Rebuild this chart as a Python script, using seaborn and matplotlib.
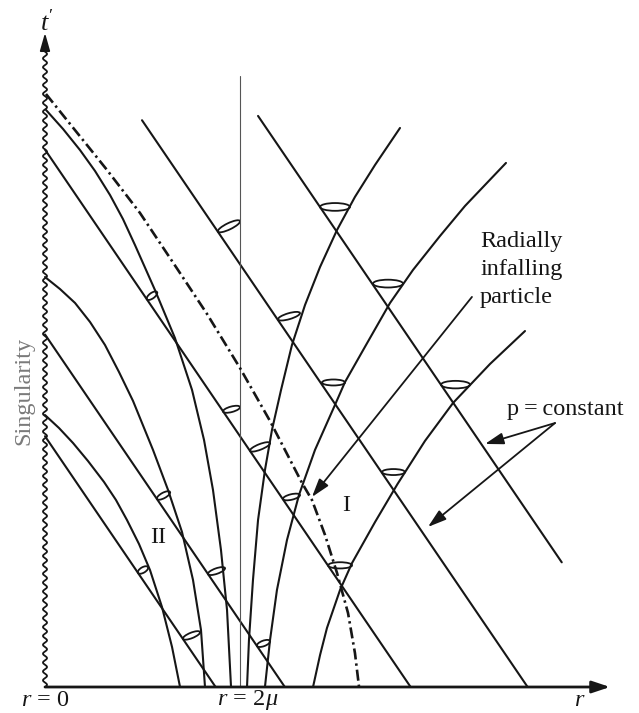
import numpy as np
import matplotlib
matplotlib.use("Agg")
import matplotlib.pyplot as plt
import seaborn as sns
from matplotlib.patches import Ellipse
from matplotlib.transforms import IdentityTransform

# ---------------- data (r and t' in units of mu) ----------------
# ingoing radial null lines  t' = C - r
ingoing_C = [1.75, 2.46, 3.75, 4.95, 6.17]
ingoing_r0 = [0.0, 0.0, 0.0, 0.995, 2.185]
ingoing_r1 = [1.75, 2.46, 3.75, 4.95, 5.30]

# "outgoing" null curves inside the horizon (region II)
II_a_r = [0.010, 0.185, 0.359, 0.513, 0.667, 0.800, 0.923, 1.128, 1.333, 1.508, 1.631, 1.723, 1.805, 1.867, 1.908]
II_a_t = [4.027, 3.894, 3.747, 3.601, 3.433, 3.265, 3.084, 2.770, 2.435, 2.073, 1.724, 1.375, 0.956, 0.537, 0.000]
II_b_r = [0.000, 0.154, 0.308, 0.462, 0.615, 0.759, 0.903, 1.108, 1.262, 1.405, 1.518, 1.600, 1.641]
II_b_t = [2.861, 2.777, 2.680, 2.547, 2.387, 2.198, 1.996, 1.654, 1.375, 1.082, 0.747, 0.398, 0.000]
II_c_r = [0.000, 0.144, 0.287, 0.441, 0.605, 0.728, 0.841, 0.964, 1.077, 1.200, 1.303, 1.385]
II_c_t = [1.898, 1.807, 1.703, 1.577, 1.431, 1.305, 1.165, 0.998, 0.816, 0.558, 0.279, 0.000]

# outgoing null curves outside the horizon (region I)
I_a_r = [2.072, 2.092, 2.133, 2.185, 2.256, 2.328, 2.421, 2.533, 2.667, 2.821, 2.995, 3.179, 3.385, 3.641]
I_a_t = [0.000, 0.328, 0.746, 1.165, 1.514, 1.794, 2.073, 2.387, 2.666, 2.931, 3.189, 3.420, 3.643, 3.901]
I_b_r = [2.256, 2.308, 2.379, 2.482, 2.605, 2.769, 2.974, 3.077, 3.292, 3.538, 3.774, 4.051, 4.308, 4.728]
I_b_t = [0.000, 0.328, 0.677, 1.026, 1.340, 1.654, 1.968, 2.128, 2.386, 2.679, 2.910, 3.147, 3.357, 3.657]
I_c_r = [2.749, 2.821, 2.892, 3.026, 3.149, 3.385, 3.615, 3.897, 4.185, 4.564, 4.923]
I_c_t = [0.000, 0.223, 0.412, 0.677, 0.865, 1.151, 1.416, 1.717, 1.982, 2.254, 2.484]

# radially infalling particle (dash-dot)
fall_r = [0.010, 0.636, 0.974, 1.364, 1.662, 2.000, 2.308, 2.636, 2.738, 2.872, 2.995, 3.108, 3.179, 3.221]
fall_t = [4.138, 3.608, 3.308, 2.910, 2.603, 2.226, 1.856, 1.424, 1.305, 1.061, 0.796, 0.516, 0.237, 0.000]

# light cones: ends of the cone's top ellipse (r1, t1, r2, t2)
cones = [
    (1.774, 3.178, 2.000, 3.252),
    (2.821, 3.350, 3.128, 3.350),
    (2.390, 2.565, 2.615, 2.610),
    (3.364, 2.815, 3.672, 2.815),
    (2.841, 2.125, 3.077, 2.125),
    (4.062, 2.110, 4.359, 2.110),
    (3.456, 1.500, 3.692, 1.500),
    (2.103, 1.648, 2.308, 1.703),
    (2.441, 1.312, 2.615, 1.340),
    (2.903, 0.849, 3.149, 0.849),
    (2.174, 0.287, 2.308, 0.321),
    (1.046, 2.705, 1.149, 2.756),
    (1.826, 1.922, 2.000, 1.954),
    (1.149, 1.312, 1.282, 1.361),
    (1.672, 0.788, 1.846, 0.830),
    (0.954, 0.796, 1.056, 0.837),
    (1.415, 0.336, 1.590, 0.384),
]

horizon_r = 2.0
horizon_top = 4.264
axis_r_max = 5.795
taxis_top = 4.46
taxis_tip = 4.565

# ---------------- style ----------------
sns.set_theme(style="white")
plt.rcParams["font.family"] = ["Liberation Serif", "DejaVu Serif"]
plt.rcParams["mathtext.fontset"] = "custom"
plt.rcParams["mathtext.rm"] = "Liberation Serif"
plt.rcParams["mathtext.it"] = "Liberation Serif:italic"
plt.rcParams["mathtext.bf"] = "Liberation Serif:bold"

ink = "#161616"
fs = 17.5

fig = plt.figure(figsize=(6.39, 7.13), dpi=100)
ax = fig.add_axes([0, 0, 1, 1])
ax.set_xlim(-0.4615, 6.0923)
ax.set_ylim(-0.1814, 4.794)
ax.axis("off")

LW = 1.5

def curve(r, t, **kw):
    sns.lineplot(x=r, y=t, ax=ax, sort=False, estimator=None, color=ink,
                 linewidth=kw.pop("linewidth", LW), **kw)
    ln = ax.lines[-1]
    ln.set_solid_joinstyle("round")
    return ln

# ingoing lines
for C, r0, r1 in zip(ingoing_C, ingoing_r0, ingoing_r1):
    rr = np.array([r0, r1])
    curve(rr, C - rr)

# outgoing curves
for r, t in [(II_a_r, II_a_t), (II_b_r, II_b_t), (II_c_r, II_c_t),
             (I_a_r, I_a_t), (I_b_r, I_b_t), (I_c_r, I_c_t)]:
    curve(r, t)

# horizon r = 2 mu
ax.plot([horizon_r, horizon_r], [0, horizon_top], color="#555555", lw=0.8)

# infalling particle
ln = curve(fall_r, fall_t, linewidth=1.9)
ln.set_linestyle((0, (4.2, 1.5, 0.9, 1.5)))

# singularity (wavy) and t' axis
tw = np.linspace(0, taxis_top, 900)
ax.plot(0.021 * np.sin(2 * np.pi * tw / 0.062), tw, color=ink, lw=1.3)
ax.annotate("", xy=(0, taxis_tip), xytext=(0, taxis_top - 0.02),
            arrowprops=dict(arrowstyle="-|>,head_length=0.6,head_width=0.17",
                            mutation_scale=18, color=ink, lw=1.3,
                            shrinkA=0, shrinkB=0))

# r axis
ax.annotate("", xy=(axis_r_max, 0), xytext=(0, 0),
            arrowprops=dict(arrowstyle="-|>,head_length=0.6,head_width=0.2",
                            mutation_scale=18, color=ink, lw=2.0,
                            shrinkA=0, shrinkB=0))

# light cones
for r1, t1, r2, t2 in cones:
    p1 = ax.transData.transform((r1, t1))
    p2 = ax.transData.transform((r2, t2))
    c = (p1 + p2) / 2
    d = p2 - p1
    L = float(np.hypot(*d))
    ang = float(np.degrees(np.arctan2(d[1], d[0])))
    h = max(0.26 * L, 5.5)
    e = Ellipse(c, L, h, angle=ang, transform=IdentityTransform(),
                fill=False, lw=1.3, ec=ink)
    ax.add_artist(e)

# texts
ax.text(0.02, 4.634, r"$t'$", fontsize=19, ha="center", va="center", color=ink)
ax.text(-0.215, 2.066, "Singularity", fontsize=fs, rotation=90,
        ha="center", va="center", color="#7a7a7a")
ax.text(0.01, -0.092, r"$r\,{=}\,0$", fontsize=fs, ha="center", va="center", color=ink)
ax.text(2.082, -0.088, r"$r\,{=}\,2\mu$", fontsize=fs, ha="center", va="center", color=ink)
ax.text(5.487, -0.092, r"$r$", fontsize=fs, ha="center", va="center", color=ink)
for s, tb in zip(["Radially", "infalling", "particle"], [3.070, 2.875, 2.680]):
    ax.text(4.462, tb, s, fontsize=fs, ha="left", va="baseline", color=ink)
ax.text(4.738, 1.898, "p\u2009=\u2009constant", fontsize=fs, ha="left",
        va="baseline", color=ink)
ax.text(3.087, 1.270, "I", fontsize=fs, ha="center", va="center", color=ink)
ax.text(1.159, 1.040, "II", fontsize=fs, ha="center", va="center", color=ink)

arrow_kw = dict(arrowstyle="-|>,head_length=0.7,head_width=0.22",
                mutation_scale=16, color=ink, lw=1.3, shrinkA=0, shrinkB=0)
ax.annotate("", xy=(2.738, 1.326), xytext=(4.379, 2.722), arrowprops=arrow_kw)
ax.annotate("", xy=(4.513, 1.696), xytext=(5.231, 1.842), arrowprops=arrow_kw)
ax.annotate("", xy=(3.928, 1.117), xytext=(5.231, 1.842), arrowprops=arrow_kw)

fig.savefig("out.png", dpi=100)
